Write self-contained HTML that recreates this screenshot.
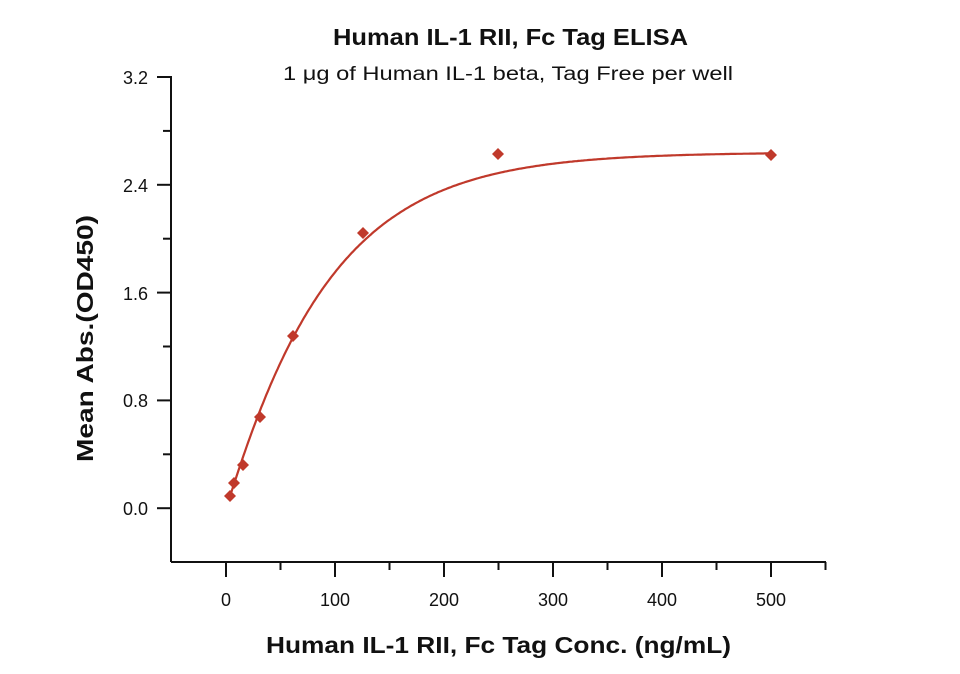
<!DOCTYPE html>
<html><head><meta charset="utf-8"><style>
html,body{margin:0;padding:0;background:#fff;width:960px;height:674px;overflow:hidden}
text{font-family:"Liberation Sans",sans-serif;fill:#111}
</style></head><body>
<svg id="s" width="960" height="674" viewBox="0 0 960 674">
<text x="333" y="45" font-size="23" font-weight="bold" textLength="355" lengthAdjust="spacingAndGlyphs">Human IL-1 RII, Fc Tag ELISA</text>
<text x="283" y="80" font-size="19" textLength="450" lengthAdjust="spacingAndGlyphs">1 μg of Human IL-1 beta, Tag Free per well</text>
<g stroke="#111" stroke-width="2" fill="none">
<line x1="171" y1="76" x2="171" y2="562"/>
<line x1="171" y1="562" x2="826" y2="562"/>
</g>
<g id="ticks" stroke="#111" stroke-width="2"></g>
<g font-size="18" text-anchor="end">
<text x="148" y="84">3.2</text><text x="148" y="192">2.4</text><text x="148" y="300">1.6</text><text x="148" y="407">0.8</text><text x="148" y="515">0.0</text>
</g>
<g font-size="18" text-anchor="middle">
<text x="226" y="606">0</text><text x="335" y="606">100</text><text x="444" y="606">200</text><text x="553" y="606">300</text><text x="662" y="606">400</text><text x="771" y="606">500</text>
</g>
<text x="266" y="653" font-size="23" font-weight="bold" textLength="465" lengthAdjust="spacingAndGlyphs">Human IL-1 RII, Fc Tag Conc. (ng/mL)</text>
<text transform="translate(93,462) rotate(-90)" font-size="23" font-weight="bold" textLength="247" lengthAdjust="spacingAndGlyphs">Mean Abs.(OD450)</text>
<path id="curve" fill="none" stroke="#c0392b" stroke-width="2.2"/>
<g id="pts" fill="#c0392b"></g>
</svg>
<script>
var X=function(v){return 226+v*1.09},Y=function(v){return 508-v*134.7};
var t='';
for(var i=0;i<9;i++){var y=77+i*53.9;t+='<line x1="'+(i%2?163:157)+'" y1="'+y+'" x2="171" y2="'+y+'"/>';}
for(var v=0;v<=550;v+=50){var x=X(v);t+='<line x1="'+x+'" y1="562" x2="'+x+'" y2="'+(v%100?570:577)+'"/>';}
document.getElementById('ticks').innerHTML=t;
var d='';
for(var v=3.9;v<=500;v+=1.5){var y=2.64*(1-Math.exp(-Math.pow(v/92.3,1.05)));d+=(d?'L':'M')+X(v).toFixed(1)+','+Y(y).toFixed(1);}
d+='L'+X(500)+','+Y(2.64*(1-Math.exp(-Math.pow(500/92.3,1.05)))).toFixed(1);
document.getElementById('curve').setAttribute('d',d);
var p=[[230,496],[234,483],[243,465],[260,417],[293,336],[363,233],[498,154],[771,155]],s='';
p.forEach(function(q){s+='<polygon points="'+q[0]+','+(q[1]-6)+' '+(q[0]+6)+','+q[1]+' '+q[0]+','+(q[1]+6)+' '+(q[0]-6)+','+q[1]+'"/>';});
document.getElementById('pts').innerHTML=s;
</script>
</body></html>
